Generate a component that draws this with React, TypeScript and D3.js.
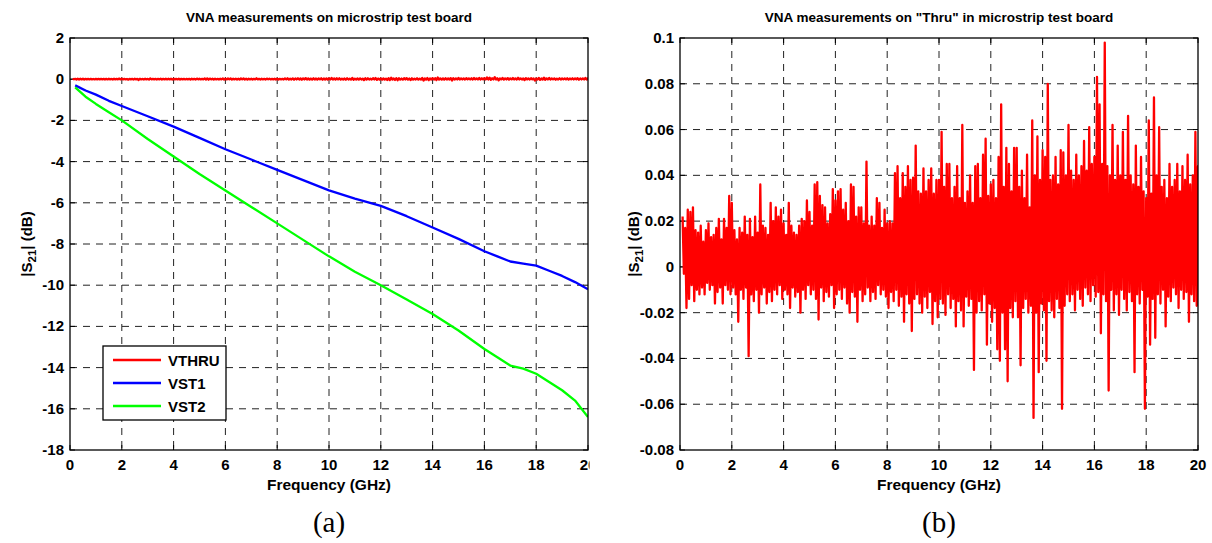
import React from 'react';
import * as d3 from 'd3';

// ---------- data ----------
const freqTicks = [0, 2, 4, 6, 8, 10, 12, 14, 16, 18, 20];
const leftYTicks = [2, 0, -2, -4, -6, -8, -10, -12, -14, -16, -18];
const rightYTicks = [0.1, 0.08, 0.06, 0.04, 0.02, 0, -0.02, -0.04, -0.06, -0.08];
const rightYTickLabels = ['0.1', '0.08', '0.06', '0.04', '0.02', '0', '-0.02', '-0.04', '-0.06', '-0.08'];

// "Thru" |S21| (dB), read as local highs / lows every 0.1 GHz from 0.1 GHz (units of 0.001 dB)
const thruStartGHz = 0.1;
const thruStepGHz = 0.1;
const thruHiMilli = [
  22, 17, 25, 24, 26, 16, 15, 18, 11, 16,
  19, 13, 14, 17, 21, 12, 21, 17, 31, 28,
  16, 12, 17, 15, 22, 14, 21, 13, 22, 15,
  36, 18, 17, 14, 28, 20, 26, 22, 25, 19,
  14, 28, 18, 15, 14, 18, 21, 20, 29, 24,
  18, 36, 37, 31, 27, 26, 19, 23, 34, 29,
  33, 34, 25, 28, 20, 36, 35, 22, 26, 26,
  19, 46, 18, 22, 18, 30, 28, 17, 25, 19,
  20, 19, 41, 44, 30, 41, 35, 44, 38, 39,
  53, 33, 32, 43, 33, 38, 43, 32, 38, 38,
  59, 35, 45, 45, 30, 35, 44, 30, 62, 28,
  33, 40, 28, 44, 45, 30, 49, 56, 31, 36,
  38, 30, 48, 71, 35, 52, 45, 33, 52, 52,
  35, 42, 30, 49, 26, 64, 40, 57, 38, 51,
  48, 80, 38, 40, 48, 36, 51, 50, 40, 62,
  42, 38, 49, 40, 44, 55, 42, 61, 45, 48,
  83, 71, 45, 98, 44, 40, 62, 38, 53, 40,
  59, 38, 66, 40, 36, 53, 35, 48, 33, 30,
  64, 32, 74, 40, 61, 35, 38, 30, 45, 35,
  38, 45, 33, 44, 38, 49, 36, 40, 59, 44,
];
const thruLoMilli = [
  -3, -18, -14, -8, -15, -10, -12, -9, -12, -7,
  -10, -8, -16, -11, -9, -16, -8, -10, -12, -9,
  -12, -24, -10, -14, -9, -39, -12, -15, -10, -20,
  -12, -9, -16, -11, -15, -10, -12, -8, -14, -10,
  -12, -18, -9, -13, -11, -20, -10, -14, -8, -12,
  -10, -14, -23, -9, -15, -11, -13, -8, -18, -12,
  -10, -14, -9, -16, -20, -11, -13, -24, -10, -15,
  -12, -9, -15, -11, -14, -8, -12, -10, -13, -18,
  -11, -15, -10, -17, -13, -24, -12, -16, -28, -14,
  -12, -16, -20, -13, -18, -11, -25, -15, -22, -14,
  -16, -21, -12, -18, -14, -26, -15, -19, -26, -13,
  -17, -14, -45, -20, -15, -19, -12, -34, -16, -24,
  -18, -36, -41, -20, -36, -50, -18, -22, -15, -22,
  -43, -18, -14, -20, -17, -66, -20, -46, -16, -19,
  -41, -15, -19, -22, -14, -18, -62, -17, -12, -15,
  -12, -19, -10, -14, -17, -9, -12, -15, -8, -13,
  -11, -29, -12, -15, -54, -10, -19, -12, -21, -10,
  -14, -19, -11, -15, -46, -12, -16, -10, -62, -13,
  -34, -14, -31, -12, -16, -10, -26, -13, -15, -9,
  -12, -18, -10, -14, -11, -24, -12, -15, -17, -32,
];

const lossFreqGHz = [0.2, 0.6, 1, 1.5, 2, 3, 4, 5, 6, 7, 8, 9, 10, 11, 12, 13, 14, 15, 16, 16.5, 17, 17.5, 18, 18.5, 19, 19.5, 20];
const vst1dB = [-0.3, -0.55, -0.75, -1.05, -1.3, -1.8, -2.3, -2.85, -3.4, -3.9, -4.4, -4.9, -5.4, -5.8, -6.15, -6.65, -7.2, -7.75, -8.35, -8.6, -8.85, -8.95, -9.05, -9.3, -9.55, -9.85, -10.2];
const vst2dB = [-0.4, -0.85, -1.2, -1.6, -2.0, -2.9, -3.75, -4.6, -5.4, -6.2, -7.0, -7.8, -8.6, -9.35, -10.0, -10.7, -11.4, -12.2, -13.1, -13.5, -13.9, -14.05, -14.3, -14.7, -15.1, -15.6, -16.4];

const seriesNames = ['VTHRU', 'VST1', 'VST2'];
const seriesColors = ['#ff0000', '#0000ff', '#00ff00'];

// ---------- helpers ----------
type Pt = [number, number];
const thruPts: Pt[] = [];
thruHiMilli.forEach((h, i) => {
  const f = thruStartGHz + i * thruStepGHz;
  thruPts.push([f, h / 1000]);
  thruPts.push([f + thruStepGHz / 2, thruLoMilli[i] / 1000]);
});
const vst1Pts: Pt[] = lossFreqGHz.map((f, i) => [f, vst1dB[i]]);
const vst2Pts: Pt[] = lossFreqGHz.map((f, i) => [f, vst2dB[i]]);

const FONT = 'Arial, "Liberation Sans", Helvetica, sans-serif';

interface PanelProps {
  id: string;
  left: number;
  top: number;
  width: number;
  height: number;
  yDomain: [number, number];
  yTicks: number[];
  yLabels: string[];
  lines: { pts: Pt[]; color: string }[];
  title: string;
  caption: string;
  clipRight?: number;
  legend?: boolean;
}

function Panel(p: PanelProps) {
  const x = d3.scaleLinear().domain([0, 20]).range([p.left, p.left + p.width]);
  const y = d3.scaleLinear().domain(p.yDomain).range([p.top + p.height, p.top]);
  const line = d3.line<Pt>().x((d) => x(d[0])).y((d) => y(d[1]));
  const x0 = p.left, x1 = p.left + p.width, y0 = p.top, y1 = p.top + p.height;
  const cx = (x0 + x1) / 2;
  const tickLen = 5;
  const gridColor = '#222';
  const dash = '7,6';
  return (
    <g clipPath={p.clipRight ? `url(#${p.id}-panel)` : undefined}>
      <defs>
        <clipPath id={`${p.id}-plot`}>
          <rect x={x0} y={y0} width={p.width} height={p.height} />
        </clipPath>
        {p.clipRight ? (
          <clipPath id={`${p.id}-panel`}>
            <rect x={0} y={0} width={p.clipRight} height={543} />
          </clipPath>
        ) : null}
      </defs>
      {/* grid */}
      {freqTicks.slice(1, -1).map((t) => (
        <line key={'gx' + t} x1={x(t)} x2={x(t)} y1={y0} y2={y1} stroke={gridColor} strokeWidth={1} strokeDasharray={dash} />
      ))}
      {p.yTicks.slice(1, -1).map((t) => (
        <line key={'gy' + t} x1={x0} x2={x1} y1={y(t)} y2={y(t)} stroke={gridColor} strokeWidth={1} strokeDasharray={dash} />
      ))}
      {/* ticks */}
      {freqTicks.map((t) => (
        <g key={'tx' + t}>
          <line x1={x(t)} x2={x(t)} y1={y1} y2={y1 - tickLen} stroke="#000" />
          <line x1={x(t)} x2={x(t)} y1={y0} y2={y0 + tickLen} stroke="#000" />
        </g>
      ))}
      {p.yTicks.map((t) => (
        <g key={'ty' + t}>
          <line x1={x0} x2={x0 + tickLen} y1={y(t)} y2={y(t)} stroke="#000" />
          <line x1={x1} x2={x1 - tickLen} y1={y(t)} y2={y(t)} stroke="#000" />
        </g>
      ))}
      {/* data */}
      <g clipPath={`url(#${p.id}-plot)`}>
        {p.lines.map((l, i) => (
          <path key={i} d={line(l.pts) || ''} fill="none" stroke={l.color} strokeWidth={2.3} strokeLinejoin="round" />
        ))}
      </g>
      {/* frame */}
      <rect x={x0} y={y0} width={p.width} height={p.height} fill="none" stroke="#000" strokeWidth={1.3} />
      {/* tick labels */}
      {freqTicks.map((t) => (
        <text key={'lx' + t} x={x(t)} y={y1 + 20} textAnchor="middle" fontFamily={FONT} fontWeight="bold" fontSize={15}>
          {t}
        </text>
      ))}
      {p.yTicks.map((t, i) => (
        <text key={'ly' + t} x={x0 - 6} y={y(t) + 5} textAnchor="end" fontFamily={FONT} fontWeight="bold" fontSize={15}>
          {p.yLabels[i]}
        </text>
      ))}
      {/* axis labels */}
      <text x={cx} y={y1 + 40} textAnchor="middle" fontFamily={FONT} fontWeight="bold" fontSize={15.5}>
        Frequency (GHz)
      </text>
      <text
        transform={`translate(${x0 - (p.id === 'a' ? 38 : 41)},${(y0 + y1) / 2}) rotate(-90)`}
        textAnchor="middle"
        fontFamily={FONT}
        fontWeight="bold"
        fontSize={15}
      >
        |S<tspan fontSize={11.5} dy={4}>21</tspan><tspan dy={-4}>| (dB)</tspan>
      </text>
      <text x={cx} y={y0 - 16} textAnchor="middle" fontFamily={FONT} fontWeight="bold" fontSize={13.5}>
        {p.title}
      </text>
      <text x={cx} y={y1 + 82} textAnchor="middle" fontFamily='"Liberation Serif", "Times New Roman", serif' fontSize={29}>
        {p.caption}
      </text>
      {p.legend ? (
        <g>
          <rect x={103} y={346} width={123} height={74} fill="#fff" stroke="#000" strokeWidth={1.3} />
          {seriesNames.map((n, i) => (
            <g key={n}>
              <line x1={113} x2={161} y1={360 + i * 23} y2={360 + i * 23} stroke={seriesColors[i]} strokeWidth={2.3} />
              <text x={168} y={365.5 + i * 23} fontFamily={FONT} fontWeight="bold" fontSize={15}>
                {n}
              </text>
            </g>
          ))}
        </g>
      ) : null}
    </g>
  );
}

export default function App() {
  return (
    <svg width={1212} height={543} style={{ position: 'absolute', left: 0, top: 0, background: '#fff' }}>
      <rect x={0} y={0} width={1212} height={543} fill="#fff" />
      <Panel
        id="a"
        left={70}
        top={38}
        width={518}
        height={412}
        yDomain={[-18, 2]}
        yTicks={leftYTicks}
        yLabels={leftYTicks.map(String)}
        lines={[
          { pts: thruPts, color: seriesColors[0] },
          { pts: vst1Pts, color: seriesColors[1] },
          { pts: vst2Pts, color: seriesColors[2] },
        ]}
        title="VNA measurements on microstrip test board"
        caption="(a)"
        clipRight={589.5}
        legend
      />
      <Panel
        id="b"
        left={680}
        top={38}
        width={518}
        height={412}
        yDomain={[-0.08, 0.1]}
        yTicks={rightYTicks}
        yLabels={rightYTickLabels}
        lines={[{ pts: thruPts, color: seriesColors[0] }]}
        title={'VNA measurements on "Thru" in microstrip test board'}
        caption="(b)"
      />
    </svg>
  );
}
